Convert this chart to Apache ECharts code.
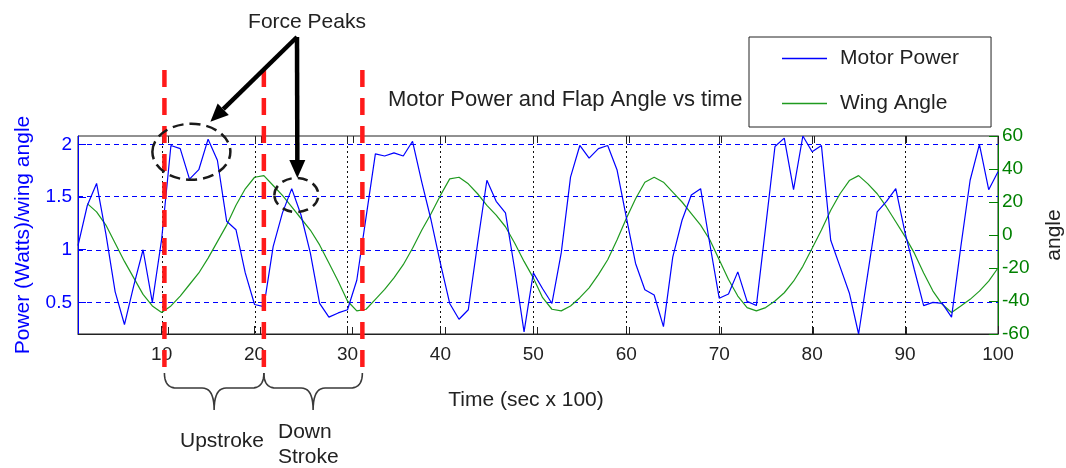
<!DOCTYPE html>
<html>
<head>
<meta charset="utf-8">
<script src="https://cdn.jsdelivr.net/npm/echarts@6/dist/echarts.min.js"></script>
<style>
  html, body { margin: 0; padding: 0; background: #fff; }
  #main { width: 1066px; height: 468px; }
</style>
</head>
<body>
<div id="main"></div>
<script>
// Motor power (W) sampled once per time step, starting at t = 1
const powerStart = 1;
const power = [
  1.04, 1.42, 1.63, 1.15, 0.60, 0.29, 0.66, 1.00, 0.50, 1.10,
  1.99, 1.96, 1.67, 1.76, 2.05, 1.85, 1.27, 1.19, 0.78, 0.48,
  0.46, 1.03, 1.35, 1.58, 1.33, 0.97, 0.49, 0.36, 0.40, 0.43,
  0.71, 1.31, 1.91, 1.89, 1.92, 1.89, 2.03, 1.64, 1.28, 0.87,
  0.49, 0.34, 0.43, 1.06, 1.66, 1.46, 1.35, 0.81, 0.22, 0.78,
  0.63, 0.49, 0.97, 1.69, 1.99, 1.87, 1.96, 1.99, 1.76, 1.31,
  0.87, 0.62, 0.57, 0.27, 0.93, 1.28, 1.52, 1.58, 1.05, 0.54,
  0.58, 0.79, 0.51, 0.47, 1.22, 1.98, 2.06, 1.57, 2.08, 1.93,
  1.99, 1.09, 0.84, 0.59, 0.20, 0.78, 1.36, 1.46, 1.58, 1.16,
  0.81, 0.47, 0.50, 0.49, 0.36, 1.03, 1.66, 2.00, 1.57, 1.74
];

// Wing angle (deg) sampled once per time step, starting at t = 2
const angleStart = 2;
const angle = [
  19, 14, 6, -5, -16, -26, -36, -43, -47,
  -43, -37, -30, -23, -14, -4, 6, 18, 28, 35,
  36, 30, 24, 17, 10, 3, -6, -17, -28, -40,
  -46, -45, -39, -33, -26, -18, -8, 3, 13, 24,
  34, 35, 31, 25, 18, 12, 5, -5, -16, -26,
  -38, -45, -46, -43, -38, -32, -24, -15, -3, 10,
  22, 32, 35, 32, 26, 20, 13, 6, -3, -15,
  -27, -37, -44, -46, -44, -40, -35, -28, -19, -8,
  3, 15, 25, 33, 36, 31, 25, 17, 8, -1,
  -11, -23, -34, -42, -47, -43, -39, -34, -28, -20
];

// Axis ranges and tick labels
const timeRange = [1, 100];
const angleTimeRange = [0.2, 100];   // the overlaid angle axes use a slightly wider time span
const powerRange = [0.2, 2.08];
const angleRange = [-60, 60];
const timeTicks = [10, 20, 30, 40, 50, 60, 70, 80, 90, 100];
const timeGrid = [10, 20, 30, 40, 50, 60, 70, 80, 90];
const powerTicks = [0.5, 1, 1.5, 2];

// Annotation anchors (data units)
const strokeBounds = [10.3, 21.0, 31.6];
const peakMarks = [[13.2, 1.93], [24.5, 1.52]];

const FONT = '"Liberation Sans", Arial, Helvetica, sans-serif';
const INK = '#222';
const BLUE = '#0000ff';
const GREEN = '#008000';
const WING = '#1f9a1f';

const chart = echarts.init(document.getElementById('main'), null, { renderer: 'canvas' });

const option = {
  animation: false,
  backgroundColor: '#fff',
  textStyle: { fontFamily: FONT },
  title: {
    text: 'Motor Power and Flap Angle vs time',
    left: 388, top: 89, padding: 0,
    textStyle: { fontFamily: FONT, fontSize: 22, fontWeight: 'normal', color: INK }
  },
  legend: {
    data: ['Motor Power', 'Wing Angle'],
    orient: 'vertical',
    left: 749, top: 37,
    padding: [11, 32, 13, 33],
    icon: 'rect',
    itemWidth: 45, itemHeight: 1.6, itemGap: 24,
    backgroundColor: '#fff',
    borderColor: INK, borderWidth: 1,
    textStyle: { fontFamily: FONT, fontSize: 21, color: INK, lineHeight: 20, padding: [0, 0, 0, 8] }
  },
  grid: {
    left: 78, right: 68, top: 136, bottom: 134,
    containLabel: false, outerBoundsMode: 'none',
    show: true, borderColor: INK, borderWidth: 1, backgroundColor: 'transparent'
  },
  xAxis: [{
    type: 'value', min: timeRange[0], max: timeRange[1], position: 'bottom',
    axisLine: { show: true, onZero: false, lineStyle: { color: INK } },
    axisTick: { inside: true, length: 8, customValues: timeTicks, lineStyle: { color: INK } },
    axisLabel: { customValues: timeTicks, fontSize: 19, color: INK, margin: 11, fontFamily: FONT },
    splitLine: { show: false },
    name: 'Time (sec x 100)', nameLocation: 'middle', nameGap: 56,
    nameTextStyle: { fontSize: 21, color: INK, fontFamily: FONT, padding: [0, 24, 0, 0] }
  }, {
    // time axis of the overlaid angle axes: inner ticks only
    type: 'value', min: angleTimeRange[0], max: angleTimeRange[1], position: 'bottom',
    axisLine: { show: false, onZero: false },
    axisTick: { inside: true, length: 7, customValues: timeGrid, lineStyle: { color: INK } },
    axisLabel: { show: false },
    splitLine: { show: false }
  }],
  yAxis: [{
    type: 'value', min: powerRange[0], max: powerRange[1], position: 'left',
    axisLine: { show: true, onZero: false, lineStyle: { color: BLUE } },
    axisTick: { inside: true, length: 8, customValues: powerTicks, lineStyle: { color: BLUE } },
    axisLabel: { customValues: powerTicks, fontSize: 19, color: BLUE, margin: 6, fontFamily: FONT },
    splitLine: { show: false },
    name: 'Power (Watts)/wing angle', nameLocation: 'middle', nameGap: 44,
    nameTextStyle: { fontSize: 21, color: BLUE, fontFamily: FONT }
  }, {
    type: 'value', min: angleRange[0], max: angleRange[1], interval: 20, position: 'right',
    axisLine: { show: true, onZero: false, lineStyle: { color: GREEN } },
    axisTick: { inside: true, length: 9, lineStyle: { color: GREEN } },
    axisLabel: { fontSize: 19, color: GREEN, margin: 4, fontFamily: FONT },
    splitLine: { show: false },
    name: 'angle', nameLocation: 'middle', nameGap: 46,
    nameTextStyle: { fontSize: 21, color: INK, fontFamily: FONT }
  }],
  series: [{
    type: 'line', name: 'Motor Power', z: 3,
    xAxisIndex: 0, yAxisIndex: 0,
    data: power.map((v, i) => [powerStart + i, v]),
    symbol: 'none', color: BLUE,
    lineStyle: { color: BLUE, width: 1.2 }
  }, {
    type: 'line', name: 'Wing Angle', z: 2,
    xAxisIndex: 0, yAxisIndex: 1,
    data: angle.map((v, i) => [angleStart + i, v]),
    symbol: 'none', color: WING,
    lineStyle: { color: WING, width: 1.2 }
  }]
};

chart.setOption(option);

// ---- grid lines and annotations, placed through the axis scales ----
const xPix = v => chart.convertToPixel({ xAxisIndex: 0 }, v);
const x2Pix = v => chart.convertToPixel({ xAxisIndex: 1 }, v);
const yPix = v => chart.convertToPixel({ yAxisIndex: 0 }, v);
const pPix = p => chart.convertToPixel({ xAxisIndex: 0, yAxisIndex: 0 }, p);

const plotLeft = xPix(timeRange[0]), plotRight = xPix(timeRange[1]);
const plotTop = yPix(powerRange[1]), plotBottom = yPix(powerRange[0]);

function arrow(from, to, width, headLen, headHalf) {
  const dx = to[0] - from[0], dy = to[1] - from[1];
  const len = Math.hypot(dx, dy);
  const ux = dx / len, uy = dy / len;
  const bx = to[0] - ux * headLen, by = to[1] - uy * headLen;
  return [{
    type: 'line', z: 120, silent: true,
    shape: { x1: from[0], y1: from[1], x2: bx, y2: by },
    style: { stroke: '#000', lineWidth: width }
  }, {
    type: 'polygon', z: 120, silent: true,
    shape: { points: [to, [bx - uy * headHalf, by + ux * headHalf], [bx + uy * headHalf, by - ux * headHalf]] },
    style: { fill: '#000' }
  }];
}

// quadratic segment sampled into points
function quad(p0, c, p1, n) {
  const pts = [];
  for (let i = 1; i <= n; i++) {
    const t = i / n, s = 1 - t;
    pts.push([s * s * p0[0] + 2 * s * t * c[0] + t * t * p1[0],
              s * s * p0[1] + 2 * s * t * c[1] + t * t * p1[1]]);
  }
  return pts;
}

function brace(xa, xb, yTop, yMid, yTip) {
  const xm = (xa + xb) / 2;
  let pts = [[xa, yTop]];
  pts = pts.concat(quad([xa, yTop], [xa, yMid], [xa + 12, yMid], 10));
  pts.push([xm - 12, yMid]);
  pts = pts.concat(quad([xm - 12, yMid], [xm, yMid], [xm, yTip], 10));
  pts = pts.concat(quad([xm, yTip], [xm, yMid], [xm + 12, yMid], 10));
  pts.push([xb - 12, yMid]);
  pts = pts.concat(quad([xb - 12, yMid], [xb, yMid], [xb, yTop], 10));
  return {
    type: 'polyline', z: 110, silent: true,
    shape: { points: pts },
    style: { fill: null, stroke: '#3a3a3a', lineWidth: 1.6 }
  };
}

const graphics = [];

// black dotted verticals
timeGrid.forEach(v => {
  const x = Math.round(xPix(v)) + 0.5;
  graphics.push({
    type: 'line', z: 1, silent: true,
    shape: { x1: x, y1: plotTop, x2: x, y2: plotBottom },
    style: { stroke: '#111', lineWidth: 1, lineDash: [2, 3] }
  });
});
// blue dashed horizontals, kept on whole pixel rows
powerTicks.forEach(v => {
  const y = 2 * Math.round((yPix(v) - 0.5) / 2) + 0.5;
  graphics.push({
    type: 'line', z: 1, silent: true,
    shape: { x1: plotLeft, y1: y, x2: plotRight, y2: y },
    style: { stroke: BLUE, lineWidth: 1, lineDash: [5, 4] }
  });
});
// inward ticks along the top edge, for both time scales
timeTicks.forEach(v => {
  const x = Math.round(xPix(v)) + 0.5;
  graphics.push({
    type: 'line', z: 5, silent: true,
    shape: { x1: x, y1: plotTop, x2: x, y2: plotTop + 8 },
    style: { stroke: INK, lineWidth: 1 }
  });
});
timeGrid.forEach(v => {
  const x = Math.round(x2Pix(v)) + 0.5;
  graphics.push({
    type: 'line', z: 5, silent: true,
    shape: { x1: x, y1: plotTop, x2: x, y2: plotTop + 7 },
    style: { stroke: INK, lineWidth: 1 }
  });
});

const bx = strokeBounds.map(xPix);
const e1 = pPix(peakMarks[0]);
const e2 = pPix(peakMarks[1]);
const origin = [297, 37];

bx.forEach(x => graphics.push({
  type: 'line', z: 115, silent: true,
  shape: { x1: x, y1: 70, x2: x, y2: 373 },
  style: { stroke: '#ff1a1a', lineWidth: 4.5, lineDash: [17, 11] }
}));
graphics.push({
  type: 'ellipse', z: 118, silent: true,
  shape: { cx: e1[0], cy: e1[1], rx: 39, ry: 28 },
  style: { fill: null, stroke: '#1a1a1a', lineWidth: 2.5, lineDash: [11, 6] }
});
graphics.push({
  type: 'ellipse', z: 118, silent: true,
  shape: { cx: e2[0], cy: e2[1], rx: 22, ry: 17 },
  style: { fill: null, stroke: '#1a1a1a', lineWidth: 2.5, lineDash: [10, 6] }
});
graphics.push(...arrow(origin, [e1[0] + 19, e1[1] - 30], 4.5, 18, 8));
graphics.push(...arrow(origin, [e2[0] + 1, e2[1] - 17], 4.5, 18, 8));
graphics.push(brace(bx[0], bx[1], 373, 388, 410));
graphics.push(brace(bx[1], bx[2], 373, 388, 410));
graphics.push({
  type: 'text', z: 120, silent: true,
  style: { text: 'Force Peaks', x: 307, y: 22, align: 'center', verticalAlign: 'middle',
           font: `21px ${FONT}`, fill: INK }
});
graphics.push({
  type: 'text', z: 120, silent: true,
  style: { text: 'Upstroke', x: 222, y: 441, align: 'center', verticalAlign: 'middle',
           font: `21px ${FONT}`, fill: INK }
});
graphics.push({
  type: 'text', z: 120, silent: true,
  style: { text: 'Down\nStroke', x: 278, y: 445, align: 'left', verticalAlign: 'middle',
           font: `21px ${FONT}`, lineHeight: 25, fill: INK }
});

chart.setOption({ graphic: graphics });
</script>
</body>
</html>
